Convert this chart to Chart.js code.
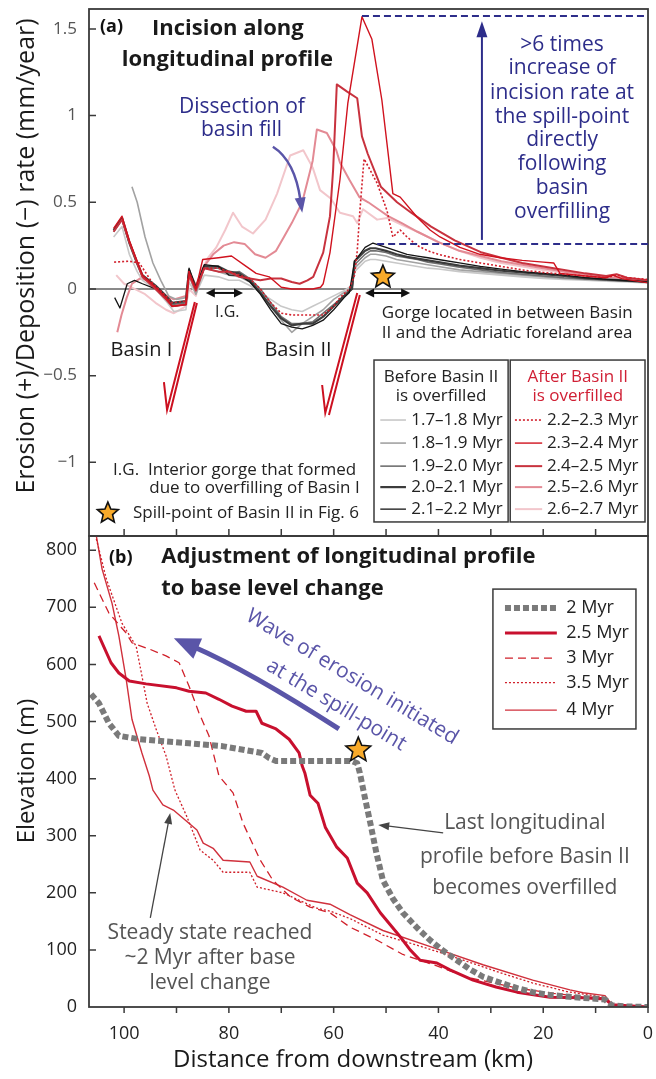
<!DOCTYPE html>
<html>
<head>
<meta charset="utf-8">
<title>Incision along longitudinal profile</title>
<script src="https://cdn.jsdelivr.net/npm/chart.js@4.4.1/dist/chart.umd.min.js"></script>
<style>
  body { margin: 0; background: #fff; }
  #wrap { position: relative; width: 656px; height: 1079px; overflow: hidden; }
  #wrap canvas { position: absolute; left: 0; }
  #rateChart { top: 0; }
  #elevChart { top: 535px; }
</style>
</head>
<body>
<div id="wrap">
  <canvas id="rateChart" width="656" height="537"></canvas>
  <canvas id="elevChart" width="656" height="544"></canvas>
</div>
<script>
const FONT = '"Open Sans", "DejaVu Sans", sans-serif';
const NAVY = '#2d2d8a';
const PURPLE = '#5a55a8';
const FRAME = '#3a3a3a';

// axis ticks
const distTicks = [0, 10, 20, 30, 40, 50, 60, 70, 80, 90, 100];
const rateTicks = [-1, -0.5, 0, 0.5, 1, 1.5];
const elevTicks = [0, 100, 200, 300, 400, 500, 600, 700, 800];

// legend labels
const beforeLabels = ['1.7\u20131.8 Myr', '1.8\u20131.9 Myr', '1.9\u20132.0 Myr', '2.0\u20132.1 Myr', '2.1\u20132.2 Myr'];
const afterLabels = ['2.2\u20132.3 Myr', '2.3\u20132.4 Myr', '2.4\u20132.5 Myr', '2.5\u20132.6 Myr', '2.6\u20132.7 Myr'];
const profileLabels = ['2 Myr', '2.5 Myr', '3 Myr', '3.5 Myr', '4 Myr'];

// (a) erosion(+)/deposition(-) rate, [distance km, mm/year]
const rate17 = [[102,0.3],[100.4,0.36],[99,0.2],[97.5,0.1],[96.5,0.05],[94,0.0],[92,-0.07],[90.5,-0.13],[88.2,-0.12],[87.6,0.04],[86.3,-0.03],[84.7,0.08],[82,0.07],[80,0.05],[78,0.05],[76,0.02],[74,-0.02],[72,-0.06],[70,-0.1],[68,-0.12],[66,-0.13],[64,-0.1],[62,-0.07],[60,-0.04],[58,-0.01],[56.5,0.02],[56,0.1],[55,0.13],[54,0.16],[53,0.17],[52,0.17],[50,0.16],[48,0.15],[46,0.14],[44,0.13],[42,0.12],[40,0.115],[36,0.1],[32,0.09],[28,0.08],[24,0.07],[20,0.06],[16,0.055],[12,0.05],[8,0.045],[4,0.04],[0,0.035]];
const rate18 = [[98.5,0.59],[97.5,0.5],[96,0.3],[94.5,0.15],[93,0.05],[91.5,-0.04],[90,-0.06],[88.2,-0.05],[87.6,0.08],[86.3,-0.03],[84.7,0.12],[82,0.1],[80,0.08],[78,0.07],[76,0.04],[74,-0.02],[72,-0.1],[70,-0.18],[68,-0.25],[66,-0.2],[64,-0.16],[62,-0.12],[60,-0.06],[58,-0.02],[56.5,0.0],[56,0.12],[55,0.15],[54,0.18],[53,0.2],[52,0.2],[50,0.19],[48,0.17],[46,0.16],[44,0.15],[42,0.14],[40,0.13],[36,0.11],[32,0.1],[28,0.09],[24,0.08],[20,0.07],[16,0.06],[12,0.055],[8,0.05],[4,0.045],[0,0.04]];
const rate19 = [[102,0.33],[100.4,0.4],[99,0.26],[97.5,0.14],[96.5,0.07],[94,0.01],[92,-0.05],[90.8,-0.09],[88.2,-0.08],[87.6,0.1],[86.3,0.0],[84.7,0.12],[82,0.12],[80,0.09],[78,0.1],[76,0.06],[74,0.0],[72,-0.08],[70,-0.16],[68,-0.2],[66,-0.2],[64,-0.19],[62,-0.14],[60,-0.09],[58,-0.04],[56.5,0.0],[56,0.14],[55,0.17],[54,0.2],[53,0.22],[52,0.22],[50,0.21],[48,0.19],[46,0.18],[44,0.17],[42,0.155],[40,0.145],[36,0.125],[32,0.11],[28,0.095],[24,0.085],[20,0.075],[16,0.065],[12,0.058],[8,0.05],[4,0.045],[0,0.04]];
const rate20 = [[102,0.34],[100.4,0.41],[99,0.27],[97.5,0.15],[96.5,0.08],[94,0.02],[92,-0.04],[90.8,-0.08],[88.2,-0.07],[87.6,0.11],[86.3,0.01],[84.7,0.13],[82,0.13],[80,0.1],[78,0.09],[76,0.05],[74,-0.02],[72,-0.1],[70,-0.17],[68,-0.21],[66,-0.2],[64,-0.2],[62,-0.16],[60,-0.1],[58,-0.04],[56.5,0.0],[56,0.16],[55,0.19],[54,0.22],[53,0.235],[52,0.235],[50,0.22],[48,0.2],[46,0.185],[44,0.175],[42,0.165],[40,0.155],[36,0.135],[32,0.12],[28,0.105],[24,0.095],[20,0.085],[16,0.075],[12,0.062],[8,0.055],[4,0.048],[0,0.042]];
const rate21 = [[101.8,-0.05],[100.8,-0.11],[99.4,0.03],[98,0.05],[96.5,0.03],[94,0.0],[92,-0.06],[90.8,-0.1],[88.2,-0.09],[87.6,0.12],[86.3,0.0],[84.7,0.14],[82,0.13],[80,0.08],[78,0.08],[76,0.04],[74,-0.03],[72,-0.12],[70,-0.2],[68,-0.22],[66,-0.23],[64,-0.21],[62,-0.18],[60,-0.12],[58,-0.05],[57,-0.02],[56,0.16],[55,0.2],[54,0.24],[52.5,0.265],[50,0.24],[48,0.22],[46,0.2],[44,0.19],[42,0.18],[40,0.17],[36,0.15],[32,0.13],[28,0.115],[24,0.1],[20,0.09],[16,0.08],[12,0.065],[8,0.055],[4,0.048],[0,0.04]];
const rate22 = [[101.9,0.155],[99,0.16],[97.1,0.15],[96,0.1],[94.5,0.03],[92,-0.04],[90.8,-0.08],[88.2,-0.07],[87.6,0.1],[86.3,0.0],[84.7,0.12],[82,0.12],[80,0.1],[78,0.08],[76,0.06],[74,0.0],[72,-0.08],[70,-0.14],[68,-0.15],[66,-0.15],[64,-0.15],[62,-0.15],[60,-0.1],[58.8,-0.05],[57,0.0],[56,0.08],[55.5,0.22],[55,0.45],[54.2,0.75],[53.1,0.69],[51.7,0.61],[49.8,0.45],[48.7,0.3],[47.3,0.34],[46,0.3],[44,0.25],[42,0.22],[40,0.2],[36,0.17],[32,0.15],[28,0.13],[24,0.11],[20,0.095],[16,0.085],[12,0.075],[8,0.065],[6,0.08],[4,0.065],[0,0.055]];
const rate23 = [[102,0.35],[100.4,0.42],[99,0.28],[97.5,0.16],[96.5,0.08],[94,0.01],[92,-0.05],[90.8,-0.1],[88.2,-0.09],[87.6,0.1],[86.3,0.0],[85,0.17],[82,0.18],[79.5,0.19],[76.7,0.13],[74.8,0.09],[72.3,0.07],[70,0.01],[68,0.0],[66,0.0],[64,0.0],[62.5,0.01],[62,0.03],[60.7,0.21],[58.8,0.63],[57.3,1.07],[54.6,1.57],[52.7,1.44],[50.8,1.09],[48.7,0.55],[47.3,0.53],[44.1,0.415],[41.6,0.34],[39.7,0.3],[35.9,0.24],[32.1,0.2],[28.2,0.18],[24,0.165],[20,0.155],[18,0.15],[16.8,0.09],[12,0.075],[8,0.065],[6.7,0.08],[5,0.06],[0,0.035]];
const rate24 = [[102,0.33],[100.4,0.4],[99,0.27],[97.5,0.15],[96.5,0.07],[94,0.0],[92,-0.06],[90.8,-0.1],[88.2,-0.09],[87.6,0.08],[86.3,-0.01],[84.7,0.12],[82,0.1],[80,0.1],[78,0.07],[76,0.06],[74,0.05],[72,0.06],[70,0.06],[68,0.04],[66.5,0.03],[65,0.05],[63.9,0.07],[62,0.21],[60.7,0.42],[60.1,0.69],[59.4,1.18],[57.5,1.14],[55.5,1.1],[54.6,0.88],[53.5,0.78],[51,0.59],[47.9,0.5],[45.2,0.44],[41.4,0.36],[36.9,0.28],[31.7,0.21],[28,0.18],[24,0.15],[20,0.13],[16,0.11],[12,0.09],[8,0.075],[6,0.085],[4,0.065],[0,0.05]];
const rate25 = [[101.3,-0.25],[100.5,-0.15],[99.5,-0.05],[98.5,0.03],[97,0.06],[95.5,0.05],[94,0.0],[92,-0.04],[90.5,-0.06],[88.2,-0.04],[87.6,0.1],[86.3,0.02],[85,0.12],[83,0.2],[81,0.25],[79,0.27],[77,0.26],[75,0.2],[73,0.18],[71,0.22],[69.5,0.3],[68,0.38],[66,0.5],[65,0.62],[64,0.74],[63.2,0.92],[61.3,0.9],[59.5,0.8],[58.8,0.73],[57,0.63],[55.1,0.53],[53.4,0.5],[51,0.45],[49.6,0.42],[47,0.38],[44,0.33],[40,0.27],[36,0.22],[32,0.19],[28,0.16],[24,0.14],[20,0.12],[16,0.1],[12,0.085],[8,0.07],[4,0.06],[0,0.05]];
const rate26 = [[101.5,0.08],[100,0.03],[98,0.0],[96,-0.03],[94,-0.08],[92,-0.12],[90.5,-0.14],[88.2,-0.1],[87.6,0.0],[86.3,-0.04],[85.2,0.1],[84,0.18],[82.4,0.24],[80.7,0.34],[79.2,0.44],[77.5,0.36],[75.4,0.32],[73,0.4],[70.8,0.55],[68.3,0.77],[65.8,0.8],[64,0.7],[62.6,0.57],[60.5,0.52],[58.8,0.44],[56.3,0.42],[55.5,0.38],[54.4,0.46],[51.7,0.4],[49.8,0.41],[47,0.37],[44,0.33],[40,0.27],[36,0.22],[32,0.18],[28,0.15],[24,0.13],[20,0.11],[16,0.095],[12,0.08],[8,0.068],[4,0.058],[0,0.05]];

// (b) longitudinal profiles, [distance km, elevation m]
const elev20 = [[106.3,548],[104.8,532],[102.9,497],[101,475],[97.1,469],[87.6,462],[81.3,457],[73.7,445],[72.3,436],[71,431],[56.5,431],[55.5,427],[55,410],[54,365],[53,322],[51.8,268],[50.6,222],[48.7,190],[46.8,165],[44,138],[41.6,117],[39,98],[36.5,82],[34,66],[31.5,53],[28,42],[25,33],[22,26],[18.7,21],[15,18],[12.4,16],[8.2,13],[6.9,3],[4,1],[0,0]];
const elev25 = [[104.8,650],[102.5,603],[101,585],[99,571],[95.8,566],[90,559],[87.6,553],[84.4,550],[81.9,539],[79.4,527],[76.7,518],[74.8,518],[73.7,497],[71,487],[68.5,469],[66.6,445],[66,422],[65.5,410],[64.5,371],[63,357],[61.6,315],[59.4,280],[57.4,261],[55.5,217],[53.6,200],[51.1,165],[47.3,123],[45.4,100],[43.5,82],[40.3,77],[37.8,65],[33.4,47],[29,35],[25,26],[18.7,17],[12.4,16],[8.2,14],[6.9,4],[0,0]];
const elev30 = [[105.7,743],[102.9,690],[99.6,655],[98.5,638],[95.2,627],[92,615],[89.5,603],[87.6,562],[85.7,515],[83.8,475],[81.9,405],[79.2,375],[77.3,322],[74,257],[71.6,222],[68.3,193],[64.5,175],[60.7,165],[56.9,140],[51.7,117],[46.8,92],[40.3,72],[34.5,52],[25,33],[18,24],[12.4,18],[8.2,16],[6.9,4],[0,0]];
const elev35 = [[105.3,820],[103.4,750],[100.4,672],[97.7,632],[96.6,580],[95.6,532],[93.9,487],[92,440],[90.3,380],[88,333],[85.5,275],[83,257],[81.1,236],[76,236],[74.6,210],[69.7,200],[63.2,173],[60.7,168],[56.9,155],[50.6,126],[44,108],[37.8,90],[28.2,60],[22,42],[15.5,27],[9.2,18],[8.2,17],[6.9,4],[0,0]];
const elev40 = [[105.3,825],[104.2,767],[102.3,707],[101,650],[99.6,574],[98.5,504],[96.6,445],[95.2,405],[94.5,380],[92.6,354],[90.6,345],[86.1,310],[84.9,287],[83,278],[81.1,257],[76,254],[74.6,229],[69.7,210],[65.1,187],[60.7,180],[56.9,162],[50.6,134],[41,104],[31.5,74],[22,47],[14.9,30],[12.4,25],[8.2,20],[6.9,4],[0,0]];

function ds(label, pts, color, width, dash) {
  return {
    label: label,
    data: pts.map(p => ({ x: p[0], y: p[1] })),
    borderColor: color,
    backgroundColor: color,
    borderWidth: width,
    borderDash: dash || [],
    borderCapStyle: 'butt',
    borderJoinStyle: 'round',
    pointRadius: 0,
    fill: false,
    tension: 0
  };
}

function fmtRate(v) {
  return v < 0 ? '\u2212' + Math.abs(v) : String(v);
}

function xScale(show) {
  return {
    type: 'linear', reverse: true, min: 0, max: 106.7,
    display: show,
    grid: { display: false, drawTicks: false },
    border: { display: false },
    afterBuildTicks: s => { s.ticks = distTicks.map(v => ({ value: v })); },
    afterFit: s => { s.height = show ? 72 : 0; s.paddingLeft = 0; s.paddingRight = 0; },
    ticks: {
      autoSkip: false, maxRotation: 0, padding: 16, color: '#222',
      font: { family: FONT, size: 18 },
      callback: v => (v % 20 === 0 ? String(v) : '')
    }
  };
}

// ---- drawing helpers ----
function txt(ctx, s, x, y, font, color, align) {
  ctx.font = font;
  ctx.fillStyle = color;
  ctx.textAlign = align || 'left';
  ctx.textBaseline = 'middle';
  ctx.fillText(s, x, y);
}

function star(ctx, cx, cy, r) {
  ctx.beginPath();
  for (let i = 0; i < 10; i++) {
    const rr = i % 2 ? r * 0.45 : r;
    const a = -Math.PI / 2 + i * Math.PI / 5;
    ctx.lineTo(cx + rr * Math.cos(a), cy + rr * Math.sin(a));
  }
  ctx.closePath();
  ctx.fillStyle = '#f8aa2a';
  ctx.fill();
  ctx.lineWidth = 1.6;
  ctx.strokeStyle = '#111';
  ctx.setLineDash([]);
  ctx.stroke();
}

function head(ctx, tx, ty, ang, len, wid, color) {
  const c = Math.cos(ang), s = Math.sin(ang);
  const bx = tx - len * c, by = ty - len * s;
  ctx.fillStyle = color;
  ctx.beginPath();
  ctx.moveTo(tx, ty);
  ctx.lineTo(bx - s * wid / 2, by + c * wid / 2);
  ctx.lineTo(bx + s * wid / 2, by - c * wid / 2);
  ctx.closePath();
  ctx.fill();
}

function arrow(ctx, x1, y1, x2, y2, color, width, len, wid) {
  const ang = Math.atan2(y2 - y1, x2 - x1);
  ctx.strokeStyle = color;
  ctx.lineWidth = width;
  ctx.setLineDash([]);
  ctx.beginPath();
  ctx.moveTo(x1, y1);
  ctx.lineTo(x2 - len * 0.8 * Math.cos(ang), y2 - len * 0.8 * Math.sin(ang));
  ctx.stroke();
  head(ctx, x2, y2, ang, len, wid, color);
}

function curvedArrow(ctx, x0, y0, cx, cy, tx, ty, color, width, len, wid) {
  const ang = Math.atan2(ty - cy, tx - cx);
  ctx.strokeStyle = color;
  ctx.lineWidth = width;
  ctx.setLineDash([]);
  ctx.beginPath();
  ctx.moveTo(x0, y0);
  ctx.quadraticCurveTo(cx, cy, tx - len * 0.8 * Math.cos(ang), ty - len * 0.8 * Math.sin(ang));
  ctx.stroke();
  head(ctx, tx, ty, ang, len, wid, color);
}

function dblArrow(ctx, x1, x2, y) {
  ctx.strokeStyle = '#111';
  ctx.lineWidth = 2;
  ctx.setLineDash([]);
  ctx.beginPath();
  ctx.moveTo(x1 + 6, y);
  ctx.lineTo(x2 - 6, y);
  ctx.stroke();
  head(ctx, x1, y, Math.PI, 9, 9, '#111');
  head(ctx, x2, y, 0, 9, 9, '#111');
}

function box(ctx, x1, y1, x2, y2) {
  ctx.fillStyle = '#fff';
  ctx.fillRect(x1, y1, x2 - x1, y2 - y1);
  ctx.strokeStyle = FRAME;
  ctx.lineWidth = 1.5;
  ctx.setLineDash([]);
  ctx.strokeRect(x1, y1, x2 - x1, y2 - y1);
}

function sample(ctx, d, x1, x2, y) {
  ctx.strokeStyle = d.borderColor;
  ctx.lineWidth = d.borderWidth;
  ctx.setLineDash(d.borderDash);
  ctx.lineCap = 'butt';
  ctx.beginPath();
  ctx.moveTo(x1, y);
  ctx.lineTo(x2, y);
  ctx.stroke();
  ctx.setLineDash([]);
}

// ---- panel (a) ----
const panelA = {
  id: 'panelA',
  beforeDatasetsDraw(chart) {
    const ctx = chart.ctx, a = chart.chartArea;
    const y0 = chart.scales.y.getPixelForValue(0);
    ctx.save();
    ctx.strokeStyle = '#8a8a8a';
    ctx.lineWidth = 2;
    ctx.beginPath();
    ctx.moveTo(a.left, y0);
    ctx.lineTo(a.right, y0);
    ctx.stroke();
    ctx.restore();
  },
  afterDatasetsDraw(chart) {
    const ctx = chart.ctx, a = chart.chartArea;
    const X = v => chart.scales.x.getPixelForValue(v);
    const Y = v => chart.scales.y.getPixelForValue(v);
    const find = l => chart.data.datasets.find(d => d.label === l);
    ctx.save();

    // frame and inner ticks
    ctx.strokeStyle = FRAME;
    ctx.lineWidth = 1.8;
    ctx.strokeRect(a.left, a.top, a.right - a.left, a.bottom - a.top);
    ctx.lineWidth = 1.5;
    ctx.beginPath();
    rateTicks.forEach(v => { ctx.moveTo(a.left, Y(v)); ctx.lineTo(a.left + 7, Y(v)); });
    distTicks.forEach(v => { if (v > 0) { ctx.moveTo(X(v), a.bottom); ctx.lineTo(X(v), a.bottom - 7); } });
    ctx.stroke();

    // titles
    txt(ctx, '(a)', X(104.6), Y(1.51), 'bold 18px ' + FONT, '#111');
    txt(ctx, 'Incision along', X(80.2), Y(1.5), 'bold 22px ' + FONT, '#1a1a1a', 'center');
    txt(ctx, 'longitudinal profile', X(80.3), Y(1.32), 'bold 22px ' + FONT, '#1a1a1a', 'center');

    // dissection note
    txt(ctx, 'Dissection of', X(77.5), Y(1.05), '21px ' + FONT, NAVY, 'center');
    txt(ctx, 'basin fill', X(77.6), Y(0.917), '21px ' + FONT, NAVY, 'center');
    curvedArrow(ctx, X(71.6), Y(0.82), X(67.4), Y(0.74), X(66.0), Y(0.44), PURPLE, 2.5, 15, 11);

    // spill-point increase note
    ctx.strokeStyle = NAVY;
    ctx.lineWidth = 2;
    ctx.setLineDash([7, 4]);
    ctx.beginPath();
    ctx.moveTo(X(54.6), Y(1.575)); ctx.lineTo(a.right, Y(1.575));
    ctx.moveTo(X(51.7), Y(0.26)); ctx.lineTo(a.right, Y(0.26));
    ctx.stroke();
    ctx.setLineDash([]);
    arrow(ctx, X(31.7), Y(0.283), X(31.7), Y(1.545), NAVY, 2, 16, 11);
    const note = ['>6 times', 'increase of', 'incision rate at', 'the spill-point', 'directly', 'following', 'basin', 'overfilling'];
    const noteY = [1.408, 1.275, 1.131, 0.992, 0.859, 0.721, 0.583, 0.444];
    note.forEach((s, i) => txt(ctx, s, X(16.4), Y(noteY[i]), '21px ' + FONT, NAVY, 'center'));

    // spill point and gorge
    star(ctx, X(50.6), Y(0.069), 12);
    dblArrow(ctx, X(54.0), X(45.4), Y(-0.023));
    txt(ctx, 'Gorge located in between Basin', X(50.8), Y(-0.138), '17px ' + FONT, '#222');
    txt(ctx, 'II and the Adriatic foreland area', X(50.8), Y(-0.254), '17px ' + FONT, '#222');

    // interior gorge
    dblArrow(ctx, X(84.4), X(77.3), Y(-0.023));
    txt(ctx, 'I.G.', X(80.3), Y(-0.133), '16px ' + FONT, '#222', 'center');

    // basins and subsidence marks
    txt(ctx, 'Basin I', X(96.7), Y(-0.352), '20px ' + FONT, '#1a1a1a', 'center');
    txt(ctx, 'Basin II', X(66.8), Y(-0.352), '20px ' + FONT, '#1a1a1a', 'center');
    ctx.strokeStyle = '#cc1020';
    ctx.lineWidth = 2;
    ctx.beginPath();
    ctx.moveTo(X(92.4), Y(-0.537)); ctx.lineTo(X(91.8), Y(-0.698)); ctx.lineTo(X(86.5), Y(-0.075));
    ctx.moveTo(X(91.2), Y(-0.71)); ctx.lineTo(X(86.1), Y(-0.081));
    ctx.moveTo(X(62.2), Y(-0.554)); ctx.lineTo(X(61.6), Y(-0.715)); ctx.lineTo(X(55.5), Y(-0.023));
    ctx.moveTo(X(60.9), Y(-0.727)); ctx.lineTo(X(55.0), Y(-0.035));
    ctx.stroke();

    // footnotes
    txt(ctx, 'I.G.  Interior gorge that formed', X(102.1), Y(-1.044), '17px ' + FONT, '#222');
    txt(ctx, 'due to overfilling of Basin I', X(95.2), Y(-1.148), '17px ' + FONT, '#222');
    star(ctx, X(103.1), Y(-1.293), 11);
    txt(ctx, 'Spill-point of Basin II in Fig. 6', X(98.3), Y(-1.293), '17px ' + FONT, '#222');

    // legends
    const entryY = [-0.756, -0.889, -1.022, -1.143, -1.27];
    box(ctx, X(52.3), Y(-0.41), X(26.7), Y(-1.344));
    box(ctx, X(26.3), Y(-0.41), X(0.57), Y(-1.344));
    txt(ctx, 'Before Basin II', X(39.5), Y(-0.508), '17px ' + FONT, '#222', 'center');
    txt(ctx, 'is overfilled', X(39.5), Y(-0.617), '17px ' + FONT, '#222', 'center');
    txt(ctx, 'After Basin II', X(13.4), Y(-0.508), '17px ' + FONT, '#d02035', 'center');
    txt(ctx, 'is overfilled', X(13.4), Y(-0.617), '17px ' + FONT, '#d02035', 'center');
    beforeLabels.forEach((l, i) => {
      sample(ctx, find(l), X(51.1), X(46.2), Y(entryY[i]));
      txt(ctx, l, X(45.2), Y(entryY[i]), '17px ' + FONT, '#222');
    });
    afterLabels.forEach((l, i) => {
      sample(ctx, find(l), X(25.4), X(20.2), Y(entryY[i]));
      txt(ctx, l, X(19.3), Y(entryY[i]), '17px ' + FONT, '#222');
    });

    // y title
    ctx.translate(27, 256);
    ctx.rotate(-Math.PI / 2);
    txt(ctx, 'Erosion (+)/Deposition (\u2212) rate (mm/year)', 0, 0, '25px ' + FONT, '#1a1a1a', 'center');
    ctx.restore();
  }
};

// ---- panel (b) ----
const panelB = {
  id: 'panelB',
  afterDatasetsDraw(chart) {
    const ctx = chart.ctx, a = chart.chartArea;
    const X = v => chart.scales.x.getPixelForValue(v);
    const Y = v => chart.scales.y.getPixelForValue(v);
    const find = l => chart.data.datasets.find(d => d.label === l);
    ctx.save();

    ctx.strokeStyle = FRAME;
    ctx.lineWidth = 1.8;
    ctx.strokeRect(a.left, a.top, a.right - a.left, a.bottom - a.top);
    ctx.lineWidth = 1.5;
    ctx.beginPath();
    elevTicks.forEach(v => { if (v > 0) { ctx.moveTo(a.left, Y(v)); ctx.lineTo(a.left + 7, Y(v)); } });
    distTicks.forEach(v => { ctx.moveTo(X(v), a.bottom); ctx.lineTo(X(v), a.bottom + 6); });
    ctx.stroke();

    txt(ctx, '(b)', X(102.9), Y(786), 'bold 18px ' + FONT, '#111');
    txt(ctx, 'Adjustment of longitudinal profile', X(92.9), Y(788), 'bold 22px ' + FONT, '#1a1a1a');
    txt(ctx, 'to base level change', X(92.9), Y(732), 'bold 22px ' + FONT, '#1a1a1a');

    // wave of erosion
    curvedArrow(ctx, X(59.0), Y(487), X(76.1), Y(588.5), X(90.5), Y(646), PURPLE, 5, 26, 22);
    [['Wave of erosion initiated', 56.5, 578], ['at the spill-point', 59.5, 529]].forEach(t => {
      ctx.save();
      ctx.translate(X(t[1]), Y(t[2]));
      ctx.rotate(31 * Math.PI / 180);
      txt(ctx, t[0], 0, 0, '21px ' + FONT, PURPLE, 'center');
      ctx.restore();
    });
    star(ctx, X(55.3), Y(450), 13);

    // notes
    ['Last longitudinal', 'profile before Basin II', 'becomes overfilled'].forEach((s, i) =>
      txt(ctx, s, X(23.5), Y([322, 263, 208][i]), '21px ' + FONT, '#555', 'center'));
    arrow(ctx, X(39.1), Y(305), X(51.5), Y(319), '#444', 1.3, 11, 8);
    ['Steady state reached', '~2 Myr after base', 'level change'].forEach((s, i) =>
      txt(ctx, s, X(83.6), Y([130, 86, 42][i]), '21px ' + FONT, '#555', 'center'));
    arrow(ctx, X(95.0), Y(156), X(91.2), Y(340), '#444', 1.3, 11, 8);

    // legend
    box(ctx, X(29.6), Y(732), X(2.3), Y(487));
    const legY = [699, 655, 611, 568, 520];
    profileLabels.forEach((l, i) => {
      sample(ctx, find(l), X(27.3), X(17.4), Y(legY[i]));
      txt(ctx, l, X(15.6), Y(legY[i]), '18px ' + FONT, '#222');
    });

    // axis titles
    txt(ctx, 'Distance from downstream (km)', 353, 525, '24px ' + FONT, '#1a1a1a', 'center');
    ctx.translate(27, 236);
    ctx.rotate(-Math.PI / 2);
    txt(ctx, 'Elevation (m)', 0, 0, '24px ' + FONT, '#1a1a1a', 'center');
    ctx.restore();
  }
};

const rateSeries = [
  ds(afterLabels[1], rate23, '#d0121e', 1.4),
  ds(afterLabels[0], rate22, '#d2202c', 1.6, [2, 2]),
  ds(afterLabels[2], rate24, '#c8323e', 2),
  ds(beforeLabels[4], rate21, '#141414', 1.3),
  ds(beforeLabels[3], rate20, '#3c3c3c', 2.2),
  ds(beforeLabels[2], rate19, '#707070', 1.6),
  ds(beforeLabels[1], rate18, '#a2a2a2', 1.6),
  ds(beforeLabels[0], rate17, '#c8c8c8', 1.6),
  ds(afterLabels[3], rate25, '#e38a94', 2),
  ds(afterLabels[4], rate26, '#f2c6cb', 2)
];

new Chart(document.getElementById('rateChart'), {
  type: 'line',
  data: { datasets: rateSeries },
  options: {
    responsive: false,
    animation: false,
    events: [],
    layout: { padding: { top: 9, right: 8, bottom: 1, left: 0 } },
    plugins: { legend: { display: false }, tooltip: { enabled: false } },
    scales: {
      x: xScale(false),
      y: {
        min: -1.425, max: 1.615,
        grid: { display: false, drawTicks: false },
        border: { display: false },
        afterBuildTicks: s => { s.ticks = rateTicks.map(v => ({ value: v })); },
        afterFit: s => { s.width = 89; s.paddingTop = 0; s.paddingBottom = 0; },
        ticks: { padding: 12, color: '#555', font: { family: FONT, size: 17 }, callback: v => fmtRate(v) }
      }
    }
  },
  plugins: [panelA]
});

const elevSeries = [
  ds(profileLabels[0], elev20, '#7a7a7a', 6, [6, 3]),
  ds(profileLabels[1], elev25, '#c8102e', 3),
  ds(profileLabels[2], elev30, '#d0202a', 1.3, [8, 5]),
  ds(profileLabels[3], elev35, '#d0202a', 1.3, [2, 2]),
  ds(profileLabels[4], elev40, '#d0303c', 1.4)
];

new Chart(document.getElementById('elevChart'), {
  type: 'line',
  data: { datasets: elevSeries },
  options: {
    responsive: false,
    animation: false,
    events: [],
    layout: { padding: { top: 1, right: 8, bottom: 0, left: 0 } },
    plugins: { legend: { display: false }, tooltip: { enabled: false } },
    scales: {
      x: xScale(true),
      y: {
        min: 0, max: 825,
        grid: { display: false, drawTicks: false },
        border: { display: false },
        afterBuildTicks: s => { s.ticks = elevTicks.map(v => ({ value: v })); },
        afterFit: s => { s.width = 89; s.paddingTop = 0; s.paddingBottom = 0; },
        ticks: { padding: 12, color: '#222', font: { family: FONT, size: 18 } }
      }
    }
  },
  plugins: [panelB]
});
</script>
</body>
</html>
